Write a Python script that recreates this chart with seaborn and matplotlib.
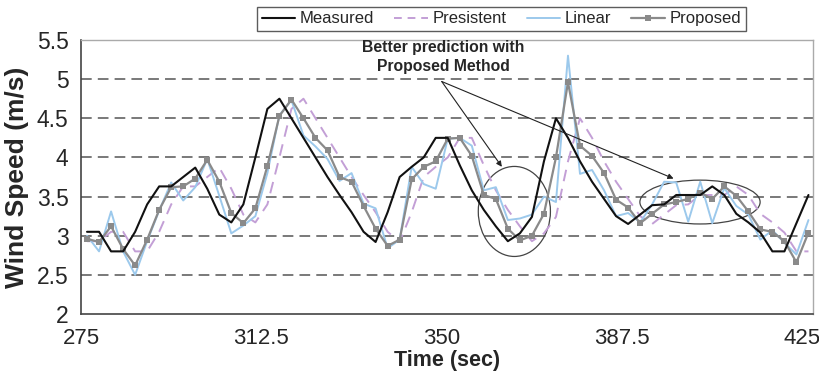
import numpy as np
import pandas as pd
import matplotlib
matplotlib.use("Agg")
import matplotlib.pyplot as plt
from matplotlib.patches import Ellipse
from matplotlib.lines import Line2D
import seaborn as sns

# sampled every 2.5 s
time = 276.25 + 2.5 * np.arange(61)

measured = [3.05, 3.05, 2.80, 2.80, 3.05, 3.40, 3.63, 3.63, 3.75, 3.87,
            3.60, 3.27, 3.17, 3.40, 4.00, 4.62, 4.75, 4.50, 4.25, 4.00,
            3.75, 3.52, 3.30, 3.05, 2.92, 3.30, 3.75, 3.88, 4.00, 4.25,
            4.25, 3.90, 3.58, 3.33, 3.12, 2.93, 3.03, 3.24, 3.95, 4.50,
            4.25, 3.95, 3.69, 3.47, 3.25, 3.15, 3.27, 3.39, 3.40, 3.52,
            3.52, 3.52, 3.63, 3.52, 3.28, 3.17, 3.04, 2.80, 2.80, 3.16,
            3.52]

persistent = [2.93, 2.93, 3.05, 3.05, 2.80, 2.80, 3.05, 3.40, 3.63, 3.63,
              3.75, 3.87, 3.60, 3.27, 3.17, 3.40, 4.00, 4.62, 4.75, 4.50,
              4.25, 4.00, 3.75, 3.52, 3.30, 3.05, 2.92, 3.30, 3.75, 3.88,
              4.00, 4.25, 4.25, 3.90, 3.58, 3.33, 3.12, 2.93, 3.03, 3.24,
              3.95, 4.50, 4.25, 3.95, 3.69, 3.47, 3.25, 3.15, 3.27, 3.39,
              3.40, 3.52, 3.52, 3.52, 3.63, 3.52, 3.28, 3.17, 3.04, 2.80,
              2.80]

linear = [3.00, 2.80, 3.31, 2.80, 2.50, 2.93, 3.32, 3.68, 3.45, 3.62,
          3.98, 3.51, 3.03, 3.13, 3.25, 3.80, 4.54, 4.73, 4.28, 4.14,
          3.98, 3.70, 3.80, 3.41, 3.35, 2.84, 2.95, 3.88, 3.66, 3.60,
          4.24, 4.25, 4.15, 3.58, 3.62, 3.20, 3.22, 3.27, 3.50, 3.43,
          5.30, 3.79, 3.84, 3.58, 3.25, 3.29, 3.17, 3.40, 3.69, 3.68,
          3.18, 3.69, 3.16, 3.61, 3.38, 3.27, 2.95, 3.07, 2.91, 2.76,
          3.20]

proposed = [2.96, 2.92, 3.12, 2.83, 2.62, 2.95, 3.33, 3.62, 3.63, 3.73,
            3.97, 3.69, 3.29, 3.16, 3.35, 3.89, 4.53, 4.74, 4.50, 4.25,
            4.09, 3.75, 3.69, 3.38, 3.09, 2.87, 2.95, 3.72, 3.88, 3.95,
            4.24, 4.25, 4.02, 3.52, 3.47, 3.09, 2.94, 3.00, 3.28, 4.00,
            4.96, 4.15, 4.02, 3.80, 3.46, 3.36, 3.16, 3.28, 3.40, 3.43,
            3.47, 3.55, 3.47, 3.63, 3.51, 3.31, 3.08, 3.05, 2.93, 2.66,
            3.04]

x_labels = ["275", "312.5", "350", "387.5", "425"]
y_ticks = [2, 2.5, 3, 3.5, 4, 4.5, 5, 5.5]

df = pd.DataFrame({"time": time, "Measured": measured, "Presistent": persistent,
                   "Linear": linear, "Proposed": proposed})

sns.set_style("white")
plt.rcParams["font.family"] = ["Liberation Sans", "DejaVu Sans"]
narrow = ["Liberation Sans Narrow", "Liberation Sans"]

fig = plt.figure(figsize=(8.2, 3.76), dpi=100)
ax = fig.add_axes([0.0988, 0.1649, 0.8927, 0.7287])

c_meas, c_pers, c_lin, c_prop = "#111111", "#c39fd6", "#9cc9ec", "#8a8a8a"

sns.lineplot(data=df, x="time", y="Presistent", ax=ax, color=c_pers, lw=1.4,
             linestyle=(0, (6, 4)))
sns.lineplot(data=df, x="time", y="Linear", ax=ax, color=c_lin, lw=1.4)
sns.lineplot(data=df, x="time", y="Proposed", ax=ax, color=c_prop, lw=1.6,
             marker="s", markersize=4, markeredgewidth=0)
sns.lineplot(data=df, x="time", y="Measured", ax=ax, color=c_meas, lw=1.5)

ax.set_xlim(275, 427.2)
ax.set_ylim(2, 5.5)
ax.set_yticks(y_ticks)
ax.set_yticklabels([f"{v:g}" for v in y_ticks], fontsize=16.5)
ax.xaxis.remove_overlapping_locs = False
ax.set_xticks([275, 300, 325, 350, 375, 400, 425])
ax.set_xticklabels([])
ax.set_xticks([275, 312.5, 350, 387.5, 425], minor=True)
ax.set_xticklabels(x_labels, minor=True, fontsize=16, family=narrow)
ax.tick_params(axis="x", which="major", direction="inout", length=5, color="#444")
ax.tick_params(axis="x", which="minor", length=0, pad=10)
ax.tick_params(axis="y", length=0, pad=9)

for v in y_ticks[1:-1]:
    ax.axhline(v, color="#555555", lw=1.1, ls=(0, (7, 4)), zorder=0)

ax.set_xlabel("Time (sec)", fontsize=15.5, fontweight="bold", labelpad=1,
              family=narrow)
ax.set_ylabel("Wind Speed (m/s)", fontsize=19, fontweight="bold")
ax.yaxis.set_label_coords(-0.071, 0.5)

for side in ["left", "bottom"]:
    ax.spines[side].set_color("#444444")
    ax.spines[side].set_linewidth(1.2)
for side in ["top", "right"]:
    ax.spines[side].set_color("#aaaaaa")
    ax.spines[side].set_linewidth(1.0)

# annotation
ax.add_patch(Ellipse((365.1, 3.31), 15, 1.15, fill=False, ec="#444444", lw=0.9))
ax.add_patch(Ellipse((403.7, 3.43), 25, 0.56, fill=False, ec="#444444", lw=0.9))
ax.text(350.3, 5.28, "Better prediction with\nProposed Method", ha="center",
        va="center", fontsize=11.3, fontweight="bold", linespacing=1.3)
for tip in [(362.5, 3.88), (398.2, 3.73)]:
    ax.annotate("", xy=tip, xytext=(350.0, 4.97),
                arrowprops=dict(arrowstyle="-|>", color="#222222", lw=0.8,
                                mutation_scale=8, shrinkA=0, shrinkB=0))

handles = [
    Line2D([], [], color=c_meas, lw=1.5),
    Line2D([], [], color=c_pers, lw=1.4, ls=(0, (4, 3))),
    Line2D([], [], color=c_lin, lw=1.4),
    Line2D([], [], color=c_prop, lw=1.6, marker="s", markersize=4, markeredgewidth=0),
]
leg = fig.legend(handles, ["Measured", "Presistent", "Linear", "Proposed"],
                 loc="center", bbox_to_anchor=(0.6116, 0.9495), ncol=4,
                 fontsize=12, frameon=True, fancybox=False, edgecolor="#333333",
                 handlelength=2.0, columnspacing=1.2, handletextpad=0.3,
                 borderpad=0.25, borderaxespad=0)
leg.get_frame().set_linewidth(1.0)

fig.savefig("out.png", dpi=100)
